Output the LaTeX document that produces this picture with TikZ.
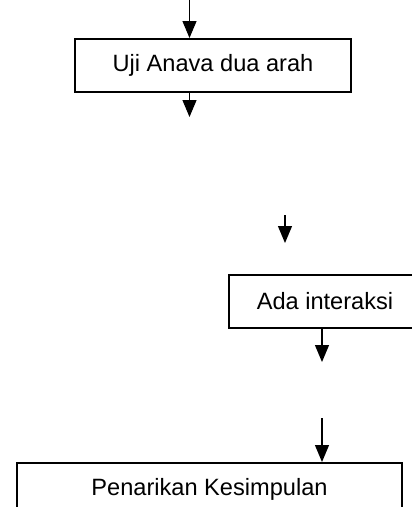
\documentclass[tikz,border=0pt]{standalone}
\usepackage{fontspec}
\setmainfont{Liberation Sans}
\usetikzlibrary{arrows.meta}
\begin{document}
\begin{tikzpicture}[x=1pt,y=-1pt,
  stepbox/.style={draw, line width=2pt, minimum height=53pt, inner sep=0pt,
    font=\fontsize{23.6}{28}\selectfont},
  flow/.style={line width=1.2pt, -{Triangle[width=14pt,length=17pt]}}]
\useasboundingbox (0,0) rectangle (412,507);

% process boxes
\node[stepbox, minimum width=276pt] (uji) at (213,65.5) {Uji Anava dua arah};
\node[stepbox, minimum width=192pt] (ada) at (325,301.5) {Ada interaksi};
\node[stepbox, minimum width=385pt] (kes) at (209.5,489.5) {Penarikan Kesimpulan};

% free ends of the connectors
\coordinate (in0) at (189.5,0);
\coordinate (out1) at (189.5,117);
\coordinate (mids) at (285,215);
\coordinate (mide) at (285,243);
\coordinate (out2) at (322,362);
\coordinate (in3) at (322,418);

% connectors
\draw[flow] (in0) -- (uji.north -| in0);
\draw[flow] (uji.south -| out1) -- (out1);
\draw[flow] (mids) -- (mide);
\draw[flow] (ada.south -| out2) -- (out2);
\draw[flow] (in3) -- (kes.north -| in3);
\end{tikzpicture}
\end{document}
